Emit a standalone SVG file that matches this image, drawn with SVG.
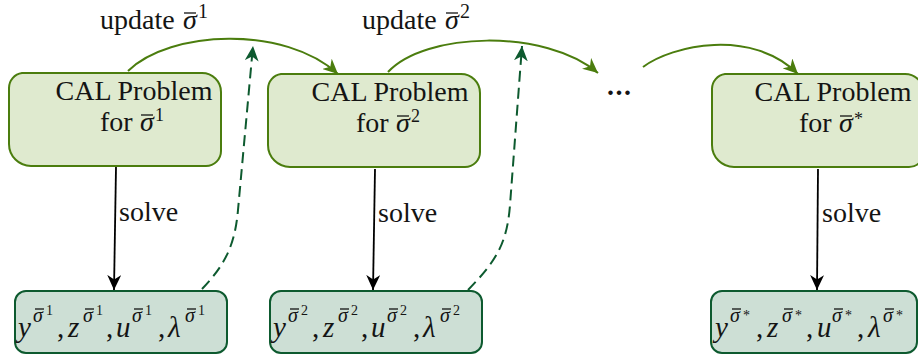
<svg xmlns="http://www.w3.org/2000/svg" width="918" height="358" viewBox="0 0 918 358">
  <style>
    .prob { fill:#dfeacf; stroke:#4b7d0e; stroke-width:2; }
    .sol  { fill:#cddfd5; stroke:#0d5a2f; stroke-width:2; }
    text  { font-family:"Liberation Serif","DejaVu Serif",serif; fill:#141414; }
    .lbl  { font-size:28px; }
    .it   { font-style:italic; }
    .m    { font-size:29px; }
    .s    { font-size:20px; }
    .s2   { font-size:18px; }
    .ss   { font-size:14px; }
    .bar  { stroke:#141414; stroke-width:1.3; }
    .upd  { fill:none; stroke:#4b7d0e; stroke-width:2; marker-end:url(#hg); }
    .slv  { fill:none; stroke:#000; stroke-width:1.8; marker-end:url(#hk); }
    .fb   { fill:none; stroke:#0d5a2f; stroke-width:2; stroke-dasharray:11 6; marker-end:url(#hd); }
  </style>
  <defs>
    <!-- stealth-style arrowheads -->
    <marker id="hk" viewBox="0 0 16 14" refX="15" refY="7" markerWidth="16" markerHeight="14" markerUnits="userSpaceOnUse" orient="auto">
      <path d="M15 7 L0 0 L4.5 7 L0 14 Z" fill="#000"/>
    </marker>
    <marker id="hg" viewBox="0 0 16 14" refX="15" refY="7" markerWidth="16" markerHeight="14" markerUnits="userSpaceOnUse" orient="auto">
      <path d="M15 7 L0 0 L4.5 7 L0 14 Z" fill="#4b7d0e"/>
    </marker>
    <marker id="hd" viewBox="0 0 16 14" refX="15" refY="7" markerWidth="16" markerHeight="14" markerUnits="userSpaceOnUse" orient="auto">
      <path d="M15 7 L0 0 L4.5 7 L0 14 Z" fill="#0d5a2f"/>
    </marker>
    <!-- problem box outline with uneven rounded corners -->
    <path id="probShape" d="M22 73 H202 A19 19 0 0 1 221 92 V151 A15 15 0 0 1 206 166 H31 A22 22 0 0 1 9 144 V88 A15 15 0 0 1 22 73 Z"/>
  </defs>

  <!-- problem nodes -->
  <g id="prob1">
    <use href="#probShape" class="prob"/>
    <text class="lbl" x="134" y="100" text-anchor="middle">CAL Problem</text>
    <text class="lbl"><tspan x="100" y="131">for</tspan><tspan class="it" x="140" y="131">σ</tspan><tspan class="s2" x="155" y="121">1</tspan></text>
    <line class="bar" x1="141" y1="115" x2="153" y2="115"/>
  </g>
  <g id="prob2">
    <use href="#probShape" class="prob" transform="translate(259,1)"/>
    <text class="lbl" x="390" y="101" text-anchor="middle">CAL Problem</text>
    <text class="lbl"><tspan x="356" y="132">for</tspan><tspan class="it" x="396" y="132">σ</tspan><tspan class="s2" x="411" y="122">2</tspan></text>
    <line class="bar" x1="397" y1="116" x2="409" y2="116"/>
  </g>
  <g id="prob3">
    <use href="#probShape" class="prob" transform="translate(703,1)"/>
    <text class="lbl" x="833" y="101" text-anchor="middle">CAL Problem</text>
    <text class="lbl"><tspan x="799" y="132">for</tspan><tspan class="it" x="839" y="132">σ</tspan><tspan class="s2" x="854" y="125">*</tspan></text>
    <line class="bar" x1="840" y1="116" x2="852" y2="116"/>
  </g>

  <g id="dots">
    <text class="lbl" x="607" y="95" letter-spacing="1.5" font-weight="bold">...</text>
  </g>

  <!-- solution nodes -->
  <g id="sol1">
    <rect class="sol" x="15" y="291" width="212" height="62" rx="11"/>
    <text><tspan class="m it" x="18" y="337">y</tspan><tspan class="s it" x="33" y="322">σ</tspan><tspan class="ss" x="46" y="315">1</tspan><tspan class="m" x="57" y="337">,</tspan><tspan class="m it" x="68" y="337">z</tspan><tspan class="s it" x="83" y="322">σ</tspan><tspan class="ss" x="96" y="315">1</tspan><tspan class="m" x="106" y="337">,</tspan><tspan class="m it" x="116" y="337">u</tspan><tspan class="s it" x="132" y="322">σ</tspan><tspan class="ss" x="145" y="315">1</tspan><tspan class="m" x="158" y="337">,</tspan><tspan class="m it" x="168" y="337">λ</tspan><tspan class="s it" x="185" y="322">σ</tspan><tspan class="ss" x="198" y="315">1</tspan></text>
    <line class="bar" x1="35" y1="309" x2="44" y2="309"/>
    <line class="bar" x1="85" y1="309" x2="94" y2="309"/>
    <line class="bar" x1="134" y1="309" x2="143" y2="309"/>
    <line class="bar" x1="187" y1="309" x2="196" y2="309"/>
  </g>
  <g id="sol2">
    <rect class="sol" x="270" y="291" width="212" height="62" rx="11"/>
    <g transform="translate(255,0)">
      <text><tspan class="m it" x="18" y="337">y</tspan><tspan class="s it" x="33" y="322">σ</tspan><tspan class="ss" x="46" y="315">2</tspan><tspan class="m" x="57" y="337">,</tspan><tspan class="m it" x="68" y="337">z</tspan><tspan class="s it" x="83" y="322">σ</tspan><tspan class="ss" x="96" y="315">2</tspan><tspan class="m" x="106" y="337">,</tspan><tspan class="m it" x="116" y="337">u</tspan><tspan class="s it" x="132" y="322">σ</tspan><tspan class="ss" x="145" y="315">2</tspan><tspan class="m" x="158" y="337">,</tspan><tspan class="m it" x="168" y="337">λ</tspan><tspan class="s it" x="185" y="322">σ</tspan><tspan class="ss" x="198" y="315">2</tspan></text>
      <line class="bar" x1="35" y1="309" x2="44" y2="309"/>
      <line class="bar" x1="85" y1="309" x2="94" y2="309"/>
      <line class="bar" x1="134" y1="309" x2="143" y2="309"/>
      <line class="bar" x1="187" y1="309" x2="196" y2="309"/>
    </g>
  </g>
  <g id="sol3">
    <rect class="sol" x="711" y="291" width="206" height="62" rx="11"/>
    <g transform="translate(697,0)">
      <text><tspan class="m it" x="18" y="337">y</tspan><tspan class="s it" x="33" y="322">σ</tspan><tspan class="ss" x="46" y="320">*</tspan><tspan class="m" x="59" y="337">,</tspan><tspan class="m it" x="70" y="337">z</tspan><tspan class="s it" x="85" y="322">σ</tspan><tspan class="ss" x="98" y="320">*</tspan><tspan class="m" x="109" y="337">,</tspan><tspan class="m it" x="120" y="337">u</tspan><tspan class="s it" x="135" y="322">σ</tspan><tspan class="ss" x="148" y="320">*</tspan><tspan class="m" x="160" y="337">,</tspan><tspan class="m it" x="171" y="337">λ</tspan><tspan class="s it" x="186" y="322">σ</tspan><tspan class="ss" x="199" y="320">*</tspan></text>
      <line class="bar" x1="35" y1="309" x2="44" y2="309"/>
      <line class="bar" x1="87" y1="309" x2="96" y2="309"/>
      <line class="bar" x1="137" y1="309" x2="146" y2="309"/>
      <line class="bar" x1="188" y1="309" x2="197" y2="309"/>
    </g>
  </g>

  <!-- connectors -->
  <g id="connectors">
    <path class="upd" d="M128 71 C170 30, 285 25, 338 74"/>
    <path class="upd" d="M388 72 C425 32, 545 28, 598 73"/>
    <path class="upd" d="M643 67 C672 45, 752 28, 798 74"/>
    <path class="slv" d="M116 167 L114 290"/>
    <path class="slv" d="M375 169 L373 290"/>
    <path class="slv" d="M818 169 L817 290"/>
    <path class="fb" d="M202 289 C225 265, 235 245, 238 210 L253 46"/>
    <path class="fb" d="M468 290 C495 262, 507 245, 510 205 L522 46"/>
    <text class="lbl" x="119" y="221">solve</text>
    <text class="lbl" x="378" y="222">solve</text>
    <text class="lbl" x="822" y="222">solve</text>
    <text class="lbl"><tspan x="100" y="29">update</tspan><tspan class="it" x="183" y="29">σ</tspan><tspan class="s" x="198" y="18">1</tspan></text>
    <line class="bar" x1="184" y1="13" x2="196" y2="13"/>
    <text class="lbl"><tspan x="362" y="29">update</tspan><tspan class="it" x="445" y="29">σ</tspan><tspan class="s" x="460" y="18">2</tspan></text>
    <line class="bar" x1="446" y1="13" x2="458" y2="13"/>
  </g>
</svg>
